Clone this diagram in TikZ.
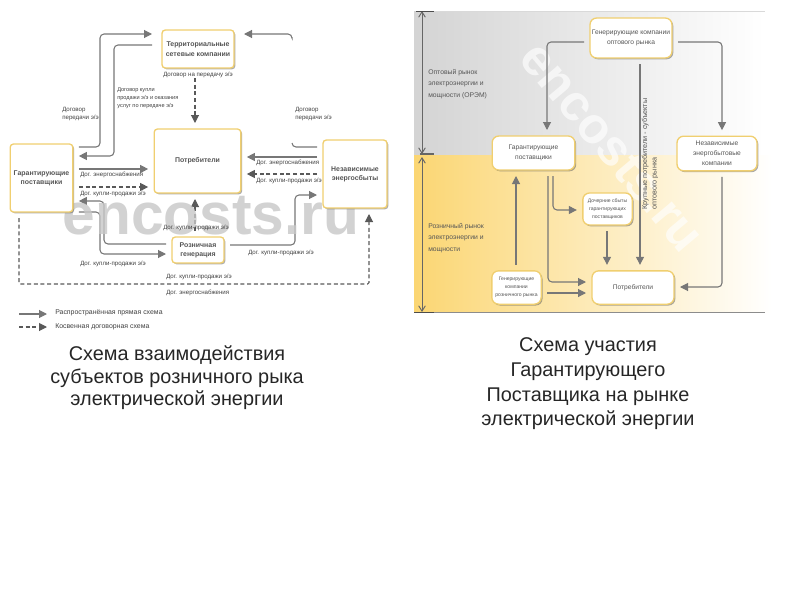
\documentclass[tikz,border=0pt]{standalone}
\usepackage{fontspec}
\setmainfont{Liberation Sans}
\usetikzlibrary{arrows.meta}
\usetikzlibrary{shadows}
\usetikzlibrary{backgrounds}

\definecolor{linegray}{HTML}{777777}
\definecolor{boxyellow}{HTML}{F0CF70}
\definecolor{txtgray}{HTML}{555555}

\tikzset{
  box/.style={draw=boxyellow,fill=white,line width=1pt,rounded corners=2.5pt,
    align=center,inner sep=0pt,outer sep=4.5pt,text=txtgray,
    drop shadow={shadow xshift=1pt,shadow yshift=-1pt,fill=black!60,opacity=.55}},
  leftbox/.style={box,font=\fontsize{5.2}{7}\selectfont\bfseries},
  rightbox/.style={box,rounded corners=5pt,font=\fontsize{5}{7.4}\selectfont},
  flow/.style={draw=linegray,line width=.8pt,rounded corners=3pt,
    -{Triangle[length=6pt,width=6pt]}},
  flowdash/.style={flow,draw=black!65,densely dashed,rounded corners=1pt},
  stub/.style={draw=linegray,line width=.8pt,rounded corners=3pt},
  lab/.style={inner sep=0pt,text=black!75,font=\fontsize{4.6}{6.6}\selectfont,align=left},
  side/.style={inner sep=0pt,text=txtgray,align=left,font=\fontsize{5.1}{8.8}\selectfont},
  caption/.style={inner sep=0pt,align=center,text=black!85},
}

\begin{document}
\begin{tikzpicture}[x=0.75pt,y=-0.75pt]
  \useasboundingbox (0,0) rectangle (800,600);

  \node[leftbox,minimum width=54pt,minimum height=28.5pt,outer sep=7.5pt] (tso) at (198,49) {Территориальные\\сетевые компании};
  \node[leftbox,minimum width=65pt,minimum height=48pt] (cons) at (197.5,161) {Потребители};
  \node[leftbox,minimum width=47pt,minimum height=51pt] (gp) at (41.5,178) {Гарантирующие\\поставщики};
  \node[leftbox,minimum width=48pt,minimum height=51pt] (ind) at (355,174) {Независимые\\энергосбыты};
  \node[leftbox,minimum width=39pt,minimum height=19.5pt] (ret) at (198,250) {Розничная\\генерация};

  \node[rightbox,minimum width=61.5pt,minimum height=30pt] (gen) at (631,38) {Генерирующие компании\\оптового рынка};
  \node[rightbox,minimum width=62pt,minimum height=25.5pt] (gar) at (533.5,153) {Гарантирующие\\поставщики};
  \node[rightbox,minimum width=60pt,minimum height=26pt] (nez) at (717,153.5) {Независимые\\энергобытовые\\компании};
  \node[rightbox,minimum width=37pt,minimum height=24pt,font=\fontsize{3.8}{5.8}\selectfont] (doch) at (607.5,209) {Дочерние сбыты\\гарантирующих\\поставщиков};
  \node[rightbox,minimum width=37pt,minimum height=25pt,font=\fontsize{3.8}{5.8}\selectfont] (rgen) at (516.5,287.5) {Генерирующие\\компании\\розничного рынка};
  \node[rightbox,minimum width=61.5pt,minimum height=25pt] (potr) at (633,287.5) {Потребители};

  \begin{scope}[on background layer]
    \fill[left color=black!17,right color=white] (414,11) rectangle (765,155);
    \fill[left color={rgb,255:red,251;green,214;blue,115},right color=white] (414,155) rectangle (772,312);
    \node[text=white,opacity=.65,rotate=-50,font=\fontsize{38}{38}\selectfont\bfseries,inner sep=0pt] (markr) at (612,147) {encosts.ru};

    \draw[flow] (gp.east |- 0,147) -- (100,147) -- (100,34) -- (tso.west |- 0,34);
    \draw[flow] (tso.west |- 0,45) -- (114,45) -- (114,156) -- (gp.east |- 0,156);
    \draw[flow] (gp.east |- 0,169) -- (cons.west |- 0,169);
    \draw[flowdash] (gp.east |- 0,187) -- (cons.west |- 0,187);
    \draw[flow] (ret.west |- 0,244) -- (104,244) -- (104,201) -- (gp.east |- 0,201);
    \draw[flow] (gp.east |- 0,212) -- (100,212) -- (100,254) -- (ret.west |- 0,254);
    \draw[flowdash] (tso.south -| 195,0) -- (cons.north -| 195,0);
    \draw[flowdash] (ret.north -| 195,0) -- (cons.south -| 195,0);
    \coordinate (gaptop) at (292,37);
    \coordinate (gapbot) at (292,143);
    \draw[flow] (gaptop) -- (292,34) -- (tso.east |- 0,34);
    \draw[stub] (ind.west |- 0,147) -- (292,147) -- (gapbot);
    \draw[flow] (ind.west |- 0,157) -- (cons.east |- 0,157);
    \draw[flowdash] (ind.west |- 0,174) -- (cons.east |- 0,174);
    \draw[flow] (ret.east |- 0,245) -- (295,245) -- (295,195) -- (ind.west |- 0,195);
    \draw[flowdash] (gp.south -| 19,0) -- (19,284) -- (369,284) -- (ind.south -| 369,0);

    \node[text=black!22,opacity=.8,font=\fontsize{44}{44}\selectfont\bfseries,inner sep=0pt] (markl) at (211,216) {encosts.ru};

    \draw[flow] (gen.west |- 0,42) -- (547,42) -- (gar.north -| 547,0);
    \draw[flow] (gen.east |- 0,42) -- (722,42) -- (nez.north -| 722,0);
    \draw[flow] (gen.south -| 640,0) -- (potr.north -| 640,0);
    \draw[flow] (doch.south -| 607,0) -- (potr.north -| 607,0);
    \draw[flow] (rgen.north -| 516,0) -- (gar.south -| 516,0);
    \draw[flow] (gar.south -| 548,0) -- (548,282) -- (potr.west |- 0,282);
    \draw[flow] (gar.south -| 553,0) -- (553,210) -- (doch.west |- 0,210);
    \draw[flow] (rgen.east |- 0,293) -- (potr.west |- 0,293);
    \draw[flow] (nez.south -| 722,0) -- (722,287) -- (potr.east |- 0,287);
  \end{scope}

  \node[lab,anchor=west] (l1) at (163,75) {Договор на передачу э/э};
  \node[lab,anchor=west] (l2) at (62,114) {Договор\\передачи э/э};
  \node[lab,anchor=west,font=\fontsize{4.2}{6.2}\selectfont] (l3) at (117,98) {Договор купли\\продажи э/э и оказания\\услуг по передаче э/э};
  \node[lab,anchor=west] (l4) at (295,114) {Договор\\передачи э/э};
  \node[lab,anchor=west] (l5) at (80,175) {Дог. энергоснабжения};
  \node[lab,anchor=west] (l6) at (80,194) {Дог. купли-продажи э/э};
  \node[lab,anchor=west] (l7) at (256,163) {Дог. энергоснабжения};
  \node[lab,anchor=west] (l8) at (256,181) {Дог. купли-продажи э/э};
  \node[lab,anchor=west] (l9) at (163,228) {Дог. купли-продажи э/э};
  \node[lab,anchor=west] (l10) at (80,264) {Дог. купли-продажи э/э};
  \node[lab,anchor=west] (l11) at (248,253) {Дог. купли-продажи э/э};
  \node[lab,anchor=west] (l12) at (166,277) {Дог. купли-продажи э/э};
  \node[lab,anchor=west] (l13) at (166,293) {Дог. энергоснабжения};

  \coordinate (lega) at (19,314);
  \coordinate (legb) at (47,314);
  \coordinate (legc) at (19,327);
  \coordinate (legd) at (47,327);
  \draw[flow] (lega) -- (legb);
  \draw[flowdash] (legc) -- (legd);
  \node[lab,anchor=west,font=\fontsize{5.2}{6.6}\selectfont] (l14) at (55,313) {Распространённая прямая схема};
  \node[lab,anchor=west,font=\fontsize{5.2}{6.6}\selectfont] (l15) at (55,327) {Косвенная договорная схема};

  \coordinate (ta) at (422,11);
  \coordinate (tb) at (422,154);
  \coordinate (tc) at (422,157);
  \coordinate (td) at (422,312);
  \draw[black!60,line width=.7pt,{Straight Barb[length=4pt,width=5pt]}-{Straight Barb[length=4pt,width=5pt]}] (ta) -- (tb);
  \draw[black!60,line width=.7pt,{Straight Barb[length=4pt,width=5pt]}-{Straight Barb[length=4pt,width=5pt]}] (tc) -- (td);
  \draw[black!70,line width=.6pt] (416,11) -- (434,11);
  \draw[black!60,line width=1.4pt] (420,154) -- (434,154);
  \draw[black!70,line width=.6pt] (414,312) -- (434,312);
  \draw[black!15,line width=.5pt] (434,11) -- (765,11);
  \draw[black!45,line width=.5pt] (434,312) -- (765,312);

  \node[side,anchor=west] (opt) at (428,84) {Оптовый рынок\\электроэнергии и\\мощности (ОРЭМ)};
  \node[side,anchor=west] (roz) at (428,238) {Розничный рынок\\электроэнергии и\\мощности};
  \node[inner sep=0pt,text=txtgray,rotate=90,align=left,font=\fontsize{5.4}{7}\selectfont] (krup) at (650,154) {Крупные потребители - субъекты\\оптового рынка};

  \node[caption,font=\fontsize{14.9}{17}\selectfont] (capl) at (177,378) {Схема взаимодействия\\субъектов розничного рыка\\электрической энергии};
  \node[caption,font=\fontsize{14.9}{18.5}\selectfont] (capr) at (588,384) {Схема  участия\\Гарантирующего\\Поставщика на рынке\\электрической энергии};
\end{tikzpicture}
\end{document}
